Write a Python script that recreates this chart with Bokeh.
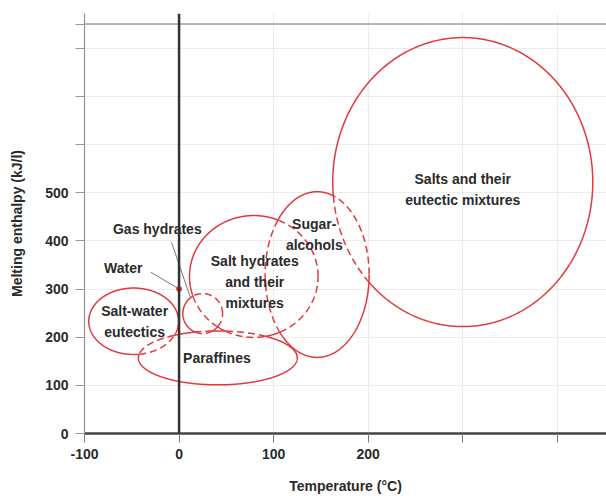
import numpy as np
from bokeh.plotting import figure
from bokeh.models import Span, FixedTicker, Range1d
from bokeh.embed import file_html
from bokeh.resources import INLINE
from bokeh.core.properties import value

# ---- data ----
region_names = ["Salt-water eutectics", "Paraffines", "Gas hydrates",
                "Salt hydrates and their mixtures", "Sugar-alcohols",
                "Salts and their eutectic mixtures"]
center_temp = [-48, 41, 25, 79, 146, 300]          # °C
center_enthalpy = [233, 157, 249, 326, 330, 522]   # kJ/l
temp_extent = [95, 168, 42, 136, 110, 275]         # full width, °C
enthalpy_extent = [138, 112, 83, 253, 344, 600]    # full height, kJ/l

label_texts = ["Salt-water\neutectics", "Paraffines", "Gas hydrates", "Water",
               "Salt hydrates\nand their\nmixtures", "Sugar-\nalcohols",
               "Salts and their\neutectic mixtures"]
label_temp = [-47, 40, -23, -59, 80, 143, 300]
label_enthalpy = [232, 156, 425, 344, 314, 413, 507]

water_temp = [0]
water_enthalpy = [300]

leader_from_temp = [-30, -8]
leader_from_enthalpy = [335, 397]
leader_to_temp = [0, 12]
leader_to_enthalpy = [300, 282]

x_ticks = [-100, 0, 100, 200, 300, 400]
x_tick_labels = {-100: "-100", 0: "0", 100: "100", 200: "200", 300: "", 400: ""}
y_ticks = [0, 100, 200, 300, 400, 500, 600, 700, 800, 850]
y_tick_labels = {0: "0", 100: "100", 200: "200", 300: "300", 400: "400", 500: "500",
                 600: "", 700: "", 800: "", 850: ""}

FONT = "Liberation Sans"
FS = "14px"
RED = "#e0393e"
TXT = "#2a2a2a"

p = figure(width=606, height=496, output_backend="svg", toolbar_location=None,
           x_range=Range1d(-100, 452), y_range=Range1d(0, 872),
           min_border_left=84, min_border_right=0, min_border_top=13, min_border_bottom=63)
p.outline_line_color = None
p.background_fill_color = "white"

# grids
p.xgrid.ticker = FixedTicker(ticks=x_ticks)
p.ygrid.ticker = FixedTicker(ticks=y_ticks)
p.xgrid.grid_line_color = "#ececec"
p.ygrid.grid_line_color = "#ececec"

# axes
p.xaxis.ticker = FixedTicker(ticks=x_ticks)
p.yaxis.ticker = FixedTicker(ticks=y_ticks)
p.xaxis.major_label_overrides = x_tick_labels
p.yaxis.major_label_overrides = y_tick_labels
for ax in (p.xaxis[0], p.yaxis[0]):
    ax.minor_tick_line_color = None
    ax.major_tick_in = 0
    ax.major_tick_out = 9
    ax.major_label_text_font = FONT
    ax.major_label_text_font_style = "bold"
    ax.major_label_text_font_size = FS
    ax.major_label_text_color = TXT
    ax.axis_label_text_font = FONT
    ax.axis_label_text_font_style = "bold"
    ax.axis_label_text_font_size = FS
    ax.axis_label_text_color = TXT
p.xaxis.axis_label = "Temperature (°C)"
p.yaxis.axis_label = "Melting enthalpy (kJ/l)"
p.xaxis.axis_line_color = "#444444"
p.xaxis.axis_line_width = 2.5
p.xaxis.major_tick_line_color = "#777777"
p.xaxis.major_label_standoff = 6
p.xaxis.axis_label_standoff = 16
p.yaxis.axis_line_color = "#9a9a9a"
p.yaxis.axis_line_width = 1.3
p.yaxis.major_tick_line_color = "#9a9a9a"
p.yaxis.major_label_standoff = 7
p.yaxis.axis_label_standoff = 17

# reference lines
p.add_layout(Span(location=850, dimension="width", line_color="#a0a0a0", line_width=1.5))
p.add_layout(Span(location=0, dimension="height", line_color="#333333", line_width=2.5))

# ---- ellipse outlines: dashed where inside another region ----
theta = np.linspace(0, 2 * np.pi, 1441)
solid_xs, solid_ys, dash_xs, dash_ys = [], [], [], []
n = len(center_temp)
for i in range(n):
    ex = center_temp[i] + temp_extent[i] / 2 * np.cos(theta)
    ey = center_enthalpy[i] + enthalpy_extent[i] / 2 * np.sin(theta)
    inside = np.zeros_like(theta, dtype=bool)
    for j in range(n):
        if j == i:
            continue
        d = ((ex - center_temp[j]) / (temp_extent[j] / 2)) ** 2 + \
            ((ey - center_enthalpy[j]) / (enthalpy_extent[j] / 2)) ** 2
        inside |= d < 1
    start = 0
    for k in range(1, len(theta) + 1):
        if k == len(theta) or inside[k] != inside[start]:
            seg = slice(start, min(k + 1, len(theta)))
            if inside[start]:
                dash_xs.append(list(ex[seg])); dash_ys.append(list(ey[seg]))
            else:
                solid_xs.append(list(ex[seg])); solid_ys.append(list(ey[seg]))
            start = k

p.multi_line(solid_xs, solid_ys, line_color=RED, line_width=1.5)
p.multi_line(dash_xs, dash_ys, line_color=RED, line_width=1.5, line_dash="7 4")

# leader lines
p.segment(x0=leader_from_temp, y0=leader_from_enthalpy, x1=leader_to_temp, y1=leader_to_enthalpy,
          line_color="#7a7a7a", line_width=1)
# water point
p.scatter(water_temp, water_enthalpy, size=5, color=RED)

# labels
p.text(x=label_temp, y=label_enthalpy, text=label_texts, text_font=value(FONT),
       text_font_style="bold", text_font_size=FS, text_color=TXT,
       text_align="center", text_baseline="middle", text_line_height=1.3)

open("out.html", "w").write(file_html(p, INLINE))
